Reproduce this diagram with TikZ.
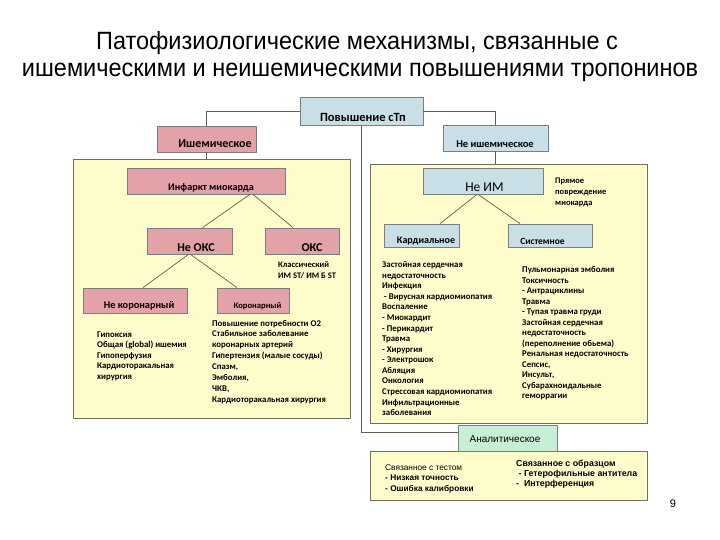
\documentclass[tikz,border=0pt]{standalone}
\usepackage{fontspec}
\setmainfont{Carlito}
\newfontfamily\titlefont[FakeStretch=0.94]{Liberation Sans}
\newfontfamily\arialf{Liberation Sans}
\definecolor{bxblue}{RGB}{201,223,232}
\definecolor{bxpink}{RGB}{227,161,168}
\definecolor{pyel}{RGB}{255,252,204}
\definecolor{bxgreen}{RGB}{198,240,214}
\definecolor{edgegray}{RGB}{125,125,125}
\definecolor{paneledge}{RGB}{110,110,100}
\definecolor{lncol}{RGB}{95,95,80}
\begin{document}
\begin{tikzpicture}[x=1pt,y=-1pt,
  box/.style={draw=edgegray, line width=0.8pt, inner sep=0pt, rectangle},
  bluebox/.style={box, fill=bxblue},
  pinkbox/.style={box, fill=bxpink},
  greenbox/.style={box, fill=bxgreen},
  panel/.style={draw=paneledge, line width=0.9pt, fill=pyel, inner sep=0pt, rectangle},
  lbl/.style={inner sep=0pt, font=\bfseries\fontsize{#1}{#1}\selectfont},
  lst/.style={inner sep=0pt, anchor=north west, align=left, font=\bfseries\fontsize{8.8}{#1}\selectfont},
  conn/.style={draw=lncol, line width=0.7pt},
  titlef/.style={inner sep=0pt, font=\titlefont\fontsize{25}{25}\selectfont}
]
\useasboundingbox[fill=white] (0,0) rectangle (720,540);

% title
\node[titlef] (t1) at (357,43) {Патофизиологические механизмы, связанные с};
\node[titlef] (t2) at (360,72) {ишемическими и неишемическими повышениями тропонинов};

% panels
\node[panel, minimum width=277, minimum height=259] (lp) at (211.5,288.5) {};
\node[panel, minimum width=277, minimum height=259] (rp) at (508.5,294) {};
\node[panel, minimum width=277, minimum height=49] (bp) at (508.5,475.5) {};

% top level boxes
\node[bluebox, minimum width=123, minimum height=28] (top) at (361.5,111) {};
\node[lbl=12.5] (topT) at (363,117) {Повышение сТп};
\node[pinkbox, minimum width=99, minimum height=26] (ish) at (206.5,139) {};
\node[lbl=12] (ishT) at (215,144) {Ишемическое};
\node[bluebox, minimum width=105, minimum height=26] (neish) at (495.5,138) {};
\node[lbl=10.5] (neishT) at (495,144) {Не ишемическое};
\node[greenbox, minimum width=99, minimum height=26] (anal) at (507.5,438) {};
\node[inner sep=0pt, font=\arialf\fontsize{10}{10}\selectfont] (analT) at (505,439) {Аналитическое};

% top connectors
\draw[conn] (top.west) -| (ish.north);
\draw[conn] (top.east) -| (neish.north);
\draw[conn] (ish.south) -- (ish.south |- lp.north);
\draw[conn] (neish.south) -- (neish.south |- rp.north);
\draw[conn] (top.south) |- ([yshift=6pt]anal.west);

% left panel
\node[pinkbox, minimum width=158, minimum height=26] (inf) at (206,181) {};
\node[lbl=10.2] (infT) at (211,187.5) {Инфаркт миокарда};
\node[pinkbox, minimum width=85, minimum height=26] (neoks) at (189.5,241) {};
\node[lbl=12] (neoksT) at (196,248) {Не ОКС};
\node[pinkbox, minimum width=74, minimum height=26] (oks) at (302,241) {};
\node[lbl=12] (oksT) at (312,248) {ОКС};
\node[pinkbox, minimum width=104, minimum height=25] (nekor) at (135,300.5) {};
\node[lbl=10.3] (nekorT) at (139,306) {Не коронарный};
\node[pinkbox, minimum width=72, minimum height=25] (kor) at (253,300.5) {};
\node[lbl=8.6] (korT) at (257.5,306) {Коронарный};

\draw[conn] ([xshift=44pt]inf.south) -- ([xshift=13pt]neoks.north);
\draw[conn] ([xshift=47pt]inf.south) -- ([xshift=-9pt]oks.north);
\draw[conn] ([xshift=-1pt]neoks.south) -- ([xshift=8pt]nekor.north);
\draw[conn] ([xshift=1pt]neoks.south) -- ([xshift=-16pt]kor.north);

\node[lst=11, font=\bfseries\fontsize{8.5}{11}\selectfont] (klass) at (278,261.5) {Классический\\ИМ ST/ ИМ Б ST};
\node[lst=10.5] (nekorL) at (97,331.5) {Гипоксия\\Общая (global) ишемия\\Гипоперфузия\\Кардиоторакальная\\хирургия};
\node[lst=10.9] (korL) at (212,319.8) {Повышение потребности О2\\Стабильное заболевание\\коронарных артерий\\Гипертензия (малые сосуды)\\Спазм,\\Эмболия,\\ЧКВ,\\Кардиоторакальная хирургия};

% right panel
\node[bluebox, minimum width=120, minimum height=26] (neim) at (483,181) {};
\node[inner sep=0pt, font=\fontsize{13.5}{13.5}\selectfont] (neimT) at (484.5,187) {Не ИМ};
\node[bluebox, minimum width=75, minimum height=23] (kard) at (421.5,235.5) {};
\node[lbl=10] (kardT) at (426,241.5) {Кардиальное};
\node[bluebox, minimum width=84, minimum height=23] (sist) at (550,235.5) {};
\node[lbl=9.5] (sistT) at (542.5,241) {Системное};

\draw[conn] ([xshift=-6pt]neim.south) -- ([xshift=18.5pt]kard.north);
\draw[conn] ([xshift=-5pt]neim.south) -- ([xshift=-30pt]sist.north);

\node[lst=11, font=\bfseries\fontsize{8.5}{11}\selectfont] (pryam) at (555,177.5) {Прямое\\повреждение\\миокарда};
\node[lst=10.57] (kardL) at (382,261.5) {Застойная сердечная\\недостаточность\\Инфекция\\\ - Вирусная кардиомиопатия\\Воспаление\\- Миокардит\\- Перикардит\\Травма\\- Хирургия\\- Электрошок\\Абляция\\Онкология\\Стрессовая кардиомиопатия\\Инфильтрационные\\заболевания};
\node[lst=10.5] (sistL) at (522,266.5) {Пульмонарная эмболия\\Токсичность\\- Антрациклины\\Травма\\- Тупая травма груди\\Застойная сердечная\\недостаточность\\(переполнение обьема)\\Ренальная недостаточность\\Сепсис,\\Инсульт,\\Субарахноидальные\\геморрагии};

% bottom panel
\node[inner sep=0pt, anchor=north west, align=left, font=\arialf\fontsize{8.3}{10.5}\selectfont] (testL) at (385,464.5) {Связанное с тестом\\\textbf{- Низкая точность}\\\textbf{- Ошибка калибровки}};
\node[inner sep=0pt, anchor=north west, align=left, font=\arialf\bfseries\fontsize{8.8}{10}\selectfont] (obrL) at (516,459.5) {Связанное с образцом\\\ - Гетерофильные антитела\\-\ \ Интерференция};

% page number
\node[inner sep=0pt, font=\arialf\fontsize{11}{11}\selectfont] (pg) at (673,504) {9};
\end{tikzpicture}
\end{document}
